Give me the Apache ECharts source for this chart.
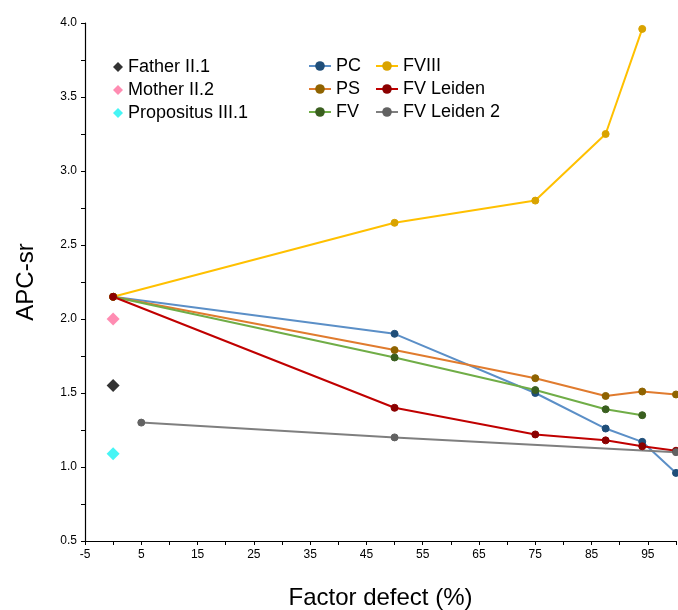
<!DOCTYPE html>
<html>
<head>
<meta charset="utf-8">
<script src="https://cdn.jsdelivr.net/npm/echarts@6/dist/echarts.min.js"></script>
<style>
  html, body { margin: 0; padding: 0; background: #fff; }
  #chart { width: 678px; height: 610px; }
</style>
</head>
<body>
<div id="chart"></div>
<script>
// family members, measured at 0 % defect
var familyNames = ['Father II.1', 'Mother II.2', 'Propositus III.1'];
var familyApc = [1.55, 2.00, 1.09];

// spiked plasma curves: factor defect (%) and APC-sr
var pcDefect = [0, 50, 75, 87.5, 94, 100];
var pcApc = [2.15, 1.90, 1.50, 1.26, 1.17, 0.96];
var psDefect = [0, 50, 75, 87.5, 94, 100];
var psApc = [2.15, 1.79, 1.60, 1.48, 1.51, 1.49];
var fvDefect = [0, 50, 75, 87.5, 94];
var fvApc = [2.15, 1.74, 1.52, 1.39, 1.35];
var f8Defect = [0, 50, 75, 87.5, 94];
var f8Apc = [2.15, 2.65, 2.80, 3.25, 3.96];
var fvlDefect = [0, 50, 75, 87.5, 94, 100];
var fvlApc = [2.15, 1.40, 1.22, 1.18, 1.14, 1.11];
var fvl2Defect = [5, 50, 100];
var fvl2Apc = [1.30, 1.20, 1.10];

var font = 'Liberation Sans, Arial, sans-serif';

function pairs(xs, ys) {
  var out = [];
  for (var i = 0; i < xs.length; i++) out.push([xs[i], ys[i]]);
  return out;
}

function curve(name, xs, ys, lineColor, dotColor) {
  return {
    name: name,
    type: 'line',
    data: pairs(xs, ys),
    symbol: 'circle',
    symbolSize: 7,
    lineStyle: { color: lineColor, width: 2 },
    itemStyle: { color: dotColor, borderColor: dotColor },
    emphasis: { disabled: true }
  };
}

function member(i, color) {
  return {
    name: familyNames[i],
    type: 'scatter',
    data: [[0, familyApc[i]]],
    symbol: 'diamond',
    symbolSize: 13,
    itemStyle: { color: color }
  };
}

var chart = echarts.init(document.getElementById('chart'));

chart.setOption({
  animation: false,
  backgroundColor: '#fff',
  grid: { left: 85, right: 2, top: 23, bottom: 69, containLabel: false, outerBoundsMode: 'none' },
  legend: [
    {
      data: familyNames,
      orient: 'vertical',
      left: 108, top: 53,
      itemWidth: 10, itemHeight: 10, itemGap: 5,
      textStyle: { fontFamily: font, fontSize: 18, color: '#000' }
    },
    {
      data: ['PC', 'PS', 'FV'],
      orient: 'vertical',
      left: 303, top: 52,
      itemWidth: 22, itemHeight: 12, itemGap: 5,
      textStyle: { fontFamily: font, fontSize: 18, color: '#000' }
    },
    {
      data: ['FVIII', 'FV Leiden', 'FV Leiden 2'],
      orient: 'vertical',
      left: 370, top: 52,
      itemWidth: 22, itemHeight: 12, itemGap: 5,
      textStyle: { fontFamily: font, fontSize: 18, color: '#000' }
    }
  ],
  xAxis: {
    type: 'value',
    min: -5, max: 100, interval: 5,
    name: 'Factor defect (%)',
    nameLocation: 'middle', nameGap: 45,
    nameTextStyle: { fontFamily: font, fontSize: 24, color: '#000' },
    axisLine: { lineStyle: { color: '#000', width: 1.2 } },
    axisTick: { show: true, length: 4, lineStyle: { color: '#000' } },
    axisLabel: {
      fontFamily: font, fontSize: 12, color: '#000', margin: 8,
      formatter: function (v) { return (v + 5) % 10 === 0 && v < 100 ? String(v) : ''; }
    },
    splitLine: { show: false }
  },
  yAxis: {
    type: 'value',
    min: 0.5, max: 4.0, interval: 0.5,
    name: 'APC-sr',
    nameLocation: 'middle', nameGap: 47, nameRotate: 90,
    nameTextStyle: { fontFamily: font, fontSize: 24, color: '#000' },
    axisLine: { show: true, onZero: false, lineStyle: { color: '#000', width: 1.2 } },
    axisTick: { show: true, length: 4, lineStyle: { color: '#000' } },
    minorTick: { show: true, splitNumber: 2, length: 4, lineStyle: { color: '#000' } },
    axisLabel: {
      fontFamily: font, fontSize: 12, color: '#000', margin: 8,
      formatter: function (v) { return v.toFixed(1); }
    },
    splitLine: { show: false }
  },
  series: [
    member(0, '#000000'),
    member(1, '#ff6f9f'),
    member(2, '#18f3f3'),
    curve('PC', pcDefect, pcApc, '#5b8fc7', '#1f4e79'),
    curve('PS', psDefect, psApc, '#e07b2e', '#8f6300'),
    curve('FV', fvDefect, fvApc, '#70ad47', '#3a5f1f'),
    curve('FVIII', f8Defect, f8Apc, '#ffc000', '#d9a300'),
    curve('FV Leiden', fvlDefect, fvlApc, '#c00000', '#8b0000'),
    curve('FV Leiden 2', fvl2Defect, fvl2Apc, '#7f7f7f', '#626262')
  ]
});
</script>
</body>
</html>
